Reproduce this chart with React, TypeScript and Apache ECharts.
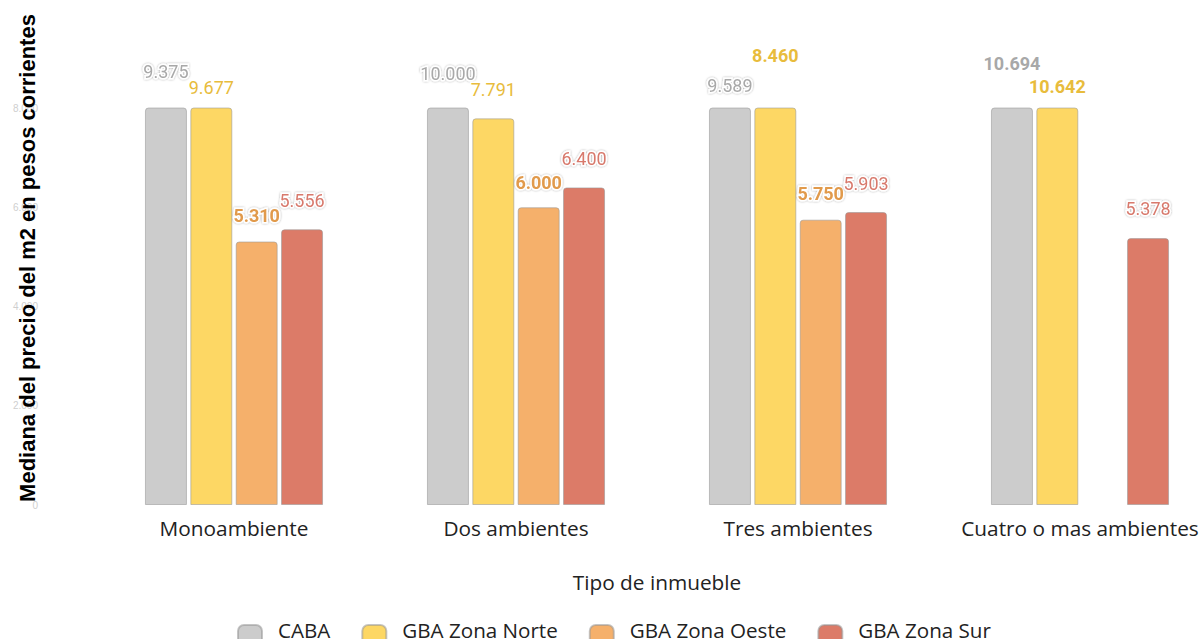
import React, { useEffect, useRef } from "react";
import * as echarts from "echarts";

const categories = ["Monoambiente", "Dos ambientes", "Tres ambientes", "Cuatro o mas ambientes"];
const seriesNames = ["CABA", "GBA Zona Norte", "GBA Zona Oeste", "GBA Zona Sur"];
const caba = [9375, 10000, 9589, 10694];
const norte = [9677, 7791, 8460, 10642];
const oeste: (number | null)[] = [5310, 6000, 5750, null];
const sur = [5556, 6400, 5903, 5378];
const yMax = 8000;
const yInterval = 2000;

// styling / layout (pixel nudges of value labels, weights, halos)
const barColors = ["#cccccc", "#fdd764", "#f5b06b", "#dc7b68"];
const labelColors = ["#a8a8a8", "#e8bc3c", "#e19a4c", "#d8796c"];
const labelNudge = [
  [-22, -20, -8, -30],
  [-6, -15, -38, -7],
  [-12, -11, -12, 0],
  [-15, -15, -15, -16],
];
const labelBold = [
  [false, false, false, true],
  [false, false, true, true],
  [true, true, true, false],
  [false, false, false, false],
];
const labelHalo = [
  [true, true, true, false],
  [false, false, false, false],
  [true, true, true, false],
  [true, true, true, true],
];

const fmt = (v: number) => String(v).replace(/\B(?=(\d{3})+(?!\d))/g, ".");

export default function App() {
  const ref = useRef<HTMLDivElement>(null);
  useEffect(() => {
    if (!ref.current) return;
    const chart = echarts.init(ref.current, null, { renderer: "svg" });
    const all = [caba, norte, oeste, sur];
    const series = all.map((arr, si) => ({
      name: seriesNames[si],
      type: "bar",
      barWidth: 42,
      barGap: "8%",
      clip: true,
      itemStyle: {
        color: barColors[si],
        borderColor: "rgba(150,150,150,0.55)",
        borderWidth: 1,
        borderRadius: [3, 3, 0, 0],
      },
      data: arr.map((v, i) =>
        v == null
          ? null
          : {
              value: v,
              label: {
                show: true,
                position: "top",
                distance: 5,
                offset: [0, labelNudge[si][i]],
                formatter: () => fmt(v),
                color: labelColors[si],
                fontSize: 18,
                fontFamily: "Roboto",
                fontWeight: labelBold[si][i] ? "bold" : "normal",
                textBorderColor: "#ffffff",
                textBorderWidth: 3,
                textShadowColor: labelHalo[si][i] ? "rgba(0,0,0,0.35)" : "transparent",
                textShadowBlur: labelHalo[si][i] ? 2 : 0,
              },
            }
      ),
    }));
    chart.setOption({
      animation: false,
      backgroundColor: "#ffffff",
      grid: { left: 93, right: 0, top: 108, bottom: 134, containLabel: false },
      legend: {
        data: seriesNames,
        left: 237,
        top: 619,
        padding: 0,
        itemWidth: 24,
        itemHeight: 24,
        itemGap: 31,
        icon: "roundRect",
        formatter: (name: string) => `{t|${name}}`,
        textStyle: {
          fontSize: 20.6,
          fontFamily: "Open Sans",
          color: "#222222",
          rich: {
            t: {
              fontSize: 20.6,
              fontFamily: "Open Sans",
              color: "#222222",
              lineHeight: 22,
              padding: [0, 0, 15, 11],
            },
          },
        },
      },
      xAxis: {
        type: "category",
        data: categories,
        axisLine: { show: false },
        axisTick: { show: false },
        axisLabel: {
          interval: 0,
          fontSize: 20.8,
          fontFamily: "Open Sans",
          color: "#222222",
          margin: 12,
        },
        name: "Tipo de inmueble",
        nameLocation: "middle",
        nameGap: 66,
        nameTextStyle: { fontSize: 20.8, fontFamily: "Open Sans", color: "#222222" },
      },
      yAxis: {
        type: "value",
        min: 0,
        max: yMax,
        interval: yInterval,
        axisLine: { show: false },
        axisTick: { show: false },
        splitLine: { show: false },
        axisLabel: {
          fontSize: 10,
          fontFamily: "Liberation Sans",
          color: "#cfcfcf",
          margin: 55,
          formatter: (v: number) => fmt(v),
        },
      },
      graphic: [
        {
          type: "text",
          x: 27,
          y: 258,
          rotation: Math.PI / 2,
          z: 100,
          style: {
            text: "Mediana del precio del m2 en pesos corrientes",
            fontSize: 22,
            fontWeight: "bold",
            fontFamily: "Liberation Sans",
            fill: "#000000",
            align: "center",
            verticalAlign: "middle",
          },
        },
      ],
      series,
    });
    return () => chart.dispose();
  }, []);
  return (
    <div style={{ position: "fixed", left: 0, top: 0, width: 1202, height: 639, overflow: "hidden" }}>
      <div ref={ref} style={{ width: 1221, height: 639 }} />
    </div>
  );
}
